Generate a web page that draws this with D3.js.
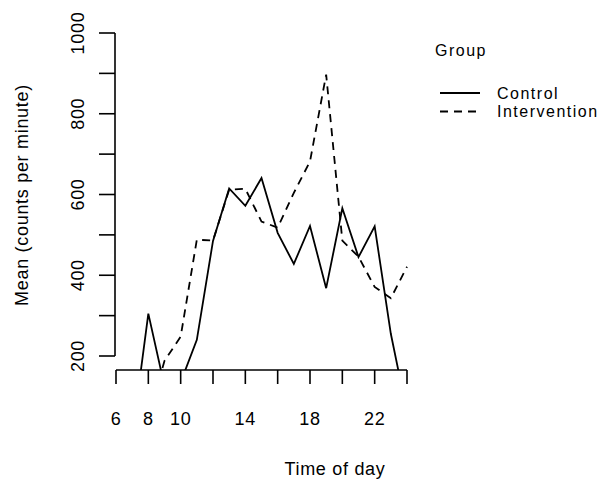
<!DOCTYPE html>
<html>
<head>
<meta charset="utf-8">
<script src="https://cdn.jsdelivr.net/npm/d3@7"></script>
<style>
  body { margin: 0; background: #fff; }
  text { font-family: "Liberation Sans", Arial, sans-serif; font-size: 18px; letter-spacing: 0.7px; fill: #000; }
  .legend text { font-size: 16px; letter-spacing: 1.5px; }
</style>
</head>
<body>
<svg id="chart" width="603" height="488"></svg>
<script>
// hourly means (values below 165 fall outside the plot and get clipped)
var hours = [6, 7, 8, 9, 10, 11, 12, 13, 14, 15, 16, 17, 18, 19, 20, 21, 22, 23, 24];
var control = [0, 0, 305, 125, 135, 240, 485, 615, 572, 641, 505, 428, 522, 368, 566, 445, 521, 255, 60];
var intervention = [30, 40, 50, 188, 248, 488, 486, 612, 614, 533, 518, 604, 682, 897, 486, 446, 371, 343, 421];

var xTicks = [6, 8, 10, 12, 14, 16, 18, 20, 22, 24];
var xLabels = [6, 8, 10, 14, 18, 22];
var yTicks = [200, 300, 400, 500, 600, 700, 800, 900, 1000];
var yLabels = [200, 400, 600, 800, 1000];

var groups = ['Control', 'Intervention'];
var dashes = [null, '8,6'];

var svg = d3.select('#chart');

var x = d3.scaleLinear().domain([6, 24]).range([116, 407]);
var y = d3.scaleLinear().domain([200, 1000]).range([356, 33]);

// plot region (wider than the axis, the legend sits inside it)
var plot = { left: 115, right: 555, top: 20, bottom: 370 };

svg.append('clipPath').attr('id', 'clip')
  .append('rect')
    .attr('x', plot.left).attr('y', plot.top)
    .attr('width', plot.right - plot.left).attr('height', plot.bottom - plot.top);

// x axis
var xAxis = svg.append('g').attr('transform', 'translate(0,' + plot.bottom + ')');
xAxis.append('line')
  .attr('x1', x(6)).attr('x2', x(24))
  .attr('stroke', '#000').attr('stroke-width', 1.6);
xAxis.selectAll('.tick').data(xTicks).enter()
  .append('line')
    .attr('x1', d => x(d)).attr('x2', d => x(d))
    .attr('y1', 0).attr('y2', 14)
    .attr('stroke', '#000').attr('stroke-width', 1.6);
xAxis.selectAll('.lab').data(xLabels).enter()
  .append('text')
    .attr('x', d => x(d))
    .attr('y', 55)
    .attr('text-anchor', 'middle')
    .text(d => d);

// y axis
var yAxis = svg.append('g').attr('transform', 'translate(' + plot.left + ',0)');
yAxis.append('line')
  .attr('y1', y(200)).attr('y2', y(1000))
  .attr('stroke', '#000').attr('stroke-width', 1.6);
yAxis.selectAll('.tick').data(yTicks).enter()
  .append('line')
    .attr('y1', d => y(d)).attr('y2', d => y(d))
    .attr('x1', 0).attr('x2', -16)
    .attr('stroke', '#000').attr('stroke-width', 1.6);
yAxis.selectAll('.lab').data(yLabels).enter()
  .append('text')
    .attr('transform', d => 'translate(-31,' + y(d) + ') rotate(-90)')
    .attr('text-anchor', 'middle')
    .text(d => d);

// axis titles
svg.append('text')
  .attr('x', (plot.left + plot.right) / 2)
  .attr('y', 475)
  .attr('text-anchor', 'middle')
  .text('Time of day');
svg.append('text')
  .attr('transform', 'translate(28,' + (plot.top + plot.bottom) / 2 + ') rotate(-90)')
  .attr('text-anchor', 'middle')
  .text('Mean (counts per minute)');

// lines
var line = d3.line().x((d, i) => x(hours[i])).y(d => y(d));
var lines = svg.append('g').attr('clip-path', 'url(#clip)');
[control, intervention].forEach((vals, i) => {
  lines.append('path')
    .datum(vals)
    .attr('d', line)
    .attr('fill', 'none')
    .attr('stroke', '#000')
    .attr('stroke-width', 1.8)
    .attr('stroke-dasharray', dashes[i]);
});

// legend
var legend = svg.append('g').attr('class', 'legend');
legend.append('text').attr('x', 435).attr('y', 56).text('Group');
groups.forEach((g, i) => {
  var ly = 93 + i * 18.5;
  legend.append('line')
    .attr('x1', 440).attr('x2', 480)
    .attr('y1', ly).attr('y2', ly)
    .attr('stroke', '#000').attr('stroke-width', 1.8)
    .attr('stroke-dasharray', dashes[i]);
  legend.append('text').attr('x', 497).attr('y', ly + 5.5).text(g);
});
</script>
</body>
</html>
